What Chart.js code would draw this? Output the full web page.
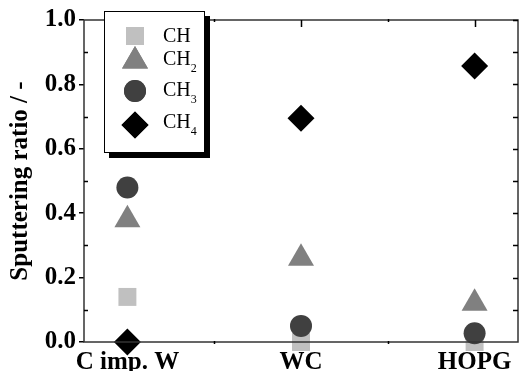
<!DOCTYPE html>
<html>
<head>
<meta charset="utf-8">
<script src="https://cdn.jsdelivr.net/npm/chart.js@4.4.1/dist/chart.umd.min.js"></script>
<style>
  html, body { margin: 0; padding: 0; background: #fff; }
  #wrap { width: 519px; height: 371px; position: relative; }
</style>
</head>
<body>
<div id="wrap"><canvas id="chart"></canvas></div>
<script>
// Sputtering ratio per target material
const categories = ['C imp. W', 'WC', 'HOPG'];
const chValues  = [0.14, 0.0, 0.0];
const ch2Values = [0.38, 0.26, 0.12];
const ch3Values = [0.48, 0.05, 0.027];
const ch4Values = [0.0, 0.695, 0.857];
const yTicks = [0, 0.2, 0.4, 0.6, 0.8, 1.0];

const SERIF = '"Liberation Serif", "DejaVu Serif", serif';

const series = [
    { label: 'CH',  sub: '',  data: chValues,  color: '#c0c0c0', style: 'rect',     radius: 12.7, order: 4 },
    { label: 'CH',  sub: '2', data: ch2Values, color: '#808080', style: 'triangle', radius: 15,   order: 3 },
    { label: 'CH',  sub: '3', data: ch3Values, color: '#404040', style: 'circle',   radius: 11,   order: 2 },
    { label: 'CH',  sub: '4', data: ch4Values, color: '#000000', style: 'rectRot',  radius: 13.5, order: 1 }
];

// frame, inward ticks and boxed legend with shadow
const framePlugin = {
    id: 'frame',
    afterDatasetsDraw(chart) {
        const ctx = chart.ctx;
        const a = chart.chartArea;
        const x = chart.scales.x, y = chart.scales.y;
        ctx.save();
        ctx.strokeStyle = '#333';
        ctx.lineWidth = 1.5;
        ctx.strokeRect(a.left, a.top, a.right - a.left, a.bottom - a.top);

        ctx.lineWidth = 1.5;
        ctx.strokeStyle = '#000';
        ctx.beginPath();
        for (let v = 0.1; v < 1.0; v += 0.1) {
            const py = Math.round(y.getPixelForValue(v)) + 0.5;
            // right axis inward
            ctx.moveTo(a.right, py); ctx.lineTo(a.right - 5, py);
            // left axis minor inward
            if (Math.round(v * 10) % 2 === 1) {
                ctx.moveTo(a.left, py); ctx.lineTo(a.left + 4, py);
            }
        }
        categories.forEach((c, i) => {
            const px = Math.round(x.getPixelForValue(i)) + 0.5;
            ctx.moveTo(px, a.top); ctx.lineTo(px, a.top + 7);
        });
        [0.5, 1.5].forEach(v => {
            const px = Math.round(x.getPixelForValue(v)) + 0.5;
            ctx.moveTo(px, a.top - 1); ctx.lineTo(px, a.top + 2);
            ctx.moveTo(px, a.bottom - 1); ctx.lineTo(px, a.bottom + 2);
        });
        ctx.stroke();

        // legend
        const lx = a.left + 20, ly = a.top - 9, lw = 100, lh = 141;
        ctx.fillStyle = '#000';
        ctx.fillRect(lx + 5, ly + 5, lw + 1, lh + 1);
        ctx.fillStyle = '#fff';
        ctx.fillRect(lx, ly, lw, lh);
        ctx.strokeStyle = '#000';
        ctx.lineWidth = 1;
        ctx.strokeRect(lx + 0.5, ly + 0.5, lw, lh);

        const rowsMarker = [25, 50, 80, 114];
        const rowsText = [26, 49, 80, 112];
        series.forEach((s, i) => {
            ctx.fillStyle = s.color;
            ctx.strokeStyle = s.color;
            Chart.helpers.drawPoint(ctx, { pointStyle: s.style, radius: s.radius, borderWidth: 0, rotation: 0 },
                lx + 31, ly + rowsMarker[i]);
            ctx.fill();
            ctx.fillStyle = '#000';
            ctx.textBaseline = 'middle';
            ctx.textAlign = 'left';
            ctx.font = '20px ' + SERIF;
            const tx = lx + 59, ty = ly + rowsText[i];
            ctx.fillText(s.label, tx, ty);
            if (s.sub) {
                const w = ctx.measureText(s.label).width;
                ctx.font = '12px ' + SERIF;
                ctx.fillText(s.sub, tx + w, ty + 9);
            }
        });
        ctx.restore();
    }
};

new Chart(document.getElementById('chart'), {
    type: 'scatter',
    data: {
        datasets: series.map(s => ({
            label: s.label + s.sub,
            data: s.data.map((v, i) => ({ x: i, y: v })),
            pointStyle: s.style,
            pointRadius: s.radius,
            pointHoverRadius: s.radius,
            pointBackgroundColor: s.color,
            pointBorderWidth: 0,
            clip: false,
            order: s.order
        }))
    },
    options: {
        responsive: true,
        maintainAspectRatio: false,
        animation: false,
        events: [],
        layout: { autoPadding: false, padding: { top: 20, right: 1, left: 0, bottom: 0 } },
        plugins: { legend: { display: false }, tooltip: { enabled: false } },
        scales: {
            x: {
                type: 'linear',
                min: -0.25,
                max: 2.25,
                afterFit: s => { s.height = 29; s.paddingLeft = 0; s.paddingRight = 0; },
                afterBuildTicks: s => { s.ticks = categories.map((c, i) => ({ value: i })); },
                grid: { display: false, drawTicks: false },
                border: { display: false },
                ticks: {
                    padding: 6,
                    color: '#000',
                    autoSkip: false,
                    maxRotation: 0,
                    font: { family: SERIF, size: 25, weight: 'bold' },
                    callback: v => categories[v]
                }
            },
            y: {
                min: 0,
                max: 1,
                afterFit: s => { s.width = 84; s.paddingTop = 0; s.paddingBottom = 0; },
                afterBuildTicks: s => { s.ticks = yTicks.map(v => ({ value: v })); },
                grid: { drawOnChartArea: false, drawTicks: true, tickLength: 5, color: '#000', lineWidth: 1.5 },
                border: { display: false },
                title: {
                    display: true,
                    text: 'Sputtering ratio / -',
                    color: '#000',
                    padding: { top: 6, bottom: 0 },
                    font: { family: SERIF, size: 25, weight: 'bold' }
                },
                ticks: {
                    padding: 3,
                    color: '#000',
                    font: { family: SERIF, size: 25, weight: 'bold' },
                    callback: v => v.toFixed(1)
                }
            }
        }
    },
    plugins: [framePlugin]
});
</script>
</body>
</html>
